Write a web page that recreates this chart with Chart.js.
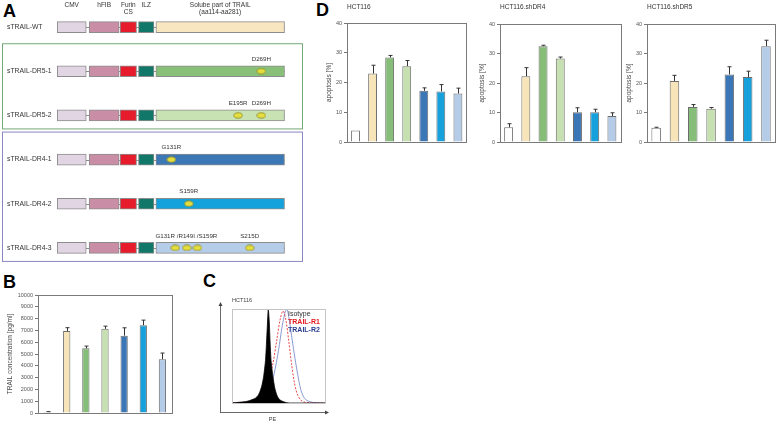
<!DOCTYPE html>
<html>
<head>
<meta charset="utf-8">
<script src="https://cdn.jsdelivr.net/npm/chart.js@4.4.1/dist/chart.umd.min.js"></script>
<style>
body { margin:0; background:#fff; }
#page { position:relative; width:778px; height:422px; overflow:hidden; font-family:'Liberation Sans', Arial, sans-serif; }
#page canvas { position:absolute; }
.panel { position:absolute; font-weight:bold; font-size:18px; line-height:18px; color:#000; }
</style>
</head>
<body>
<div id="page">
  <div class="panel" style="left:3px;top:2px">A</div>
  <div class="panel" style="left:3px;top:273px">B</div>
  <div class="panel" style="left:203px;top:272px">C</div>
  <div class="panel" style="left:316px;top:1px">D</div>
  <canvas id="constructs" width="305" height="275" style="left:0px;top:0px"></canvas>
  <canvas id="elisa" width="178" height="137" style="left:0px;top:285px"></canvas>
  <canvas id="facs" width="125" height="124" style="left:210px;top:298px"></canvas>
  <canvas id="apoWT" width="152" height="155" style="left:318px;top:0px"></canvas>
  <canvas id="apoDR4" width="154" height="155" style="left:470px;top:0px"></canvas>
  <canvas id="apoDR5" width="160" height="155" style="left:618px;top:0px"></canvas>
</div>
<script>
// --- panel A: constructs
var rowNames = ['sTRAIL-WT', 'sTRAIL-DR5-1', 'sTRAIL-DR5-2', 'sTRAIL-DR4-1', 'sTRAIL-DR4-2', 'sTRAIL-DR4-3'];
var segNames = [['CMV'], ['hFIB'], ['Furin', 'CS'], ['ILZ'], ['Solube part of TRAIL', '(aa114-aa281)']];
var segStart = [54, 87, 119, 138, 156];
var segEnd   = [84, 118, 136, 154, 289];
var mutRows   = ['sTRAIL-DR5-1', 'sTRAIL-DR5-2', 'sTRAIL-DR5-2', 'sTRAIL-DR4-1', 'sTRAIL-DR4-2', 'sTRAIL-DR4-3', 'sTRAIL-DR4-3'];
var mutSites  = [[265], [241], [265], [172], [190], [176, 188, 199], [253]];
var mutLabels = ['D269H', 'E195R', 'D269H', 'G131R', 'S159R', 'G131R /R149I /S159R', 'S215D'];
var groupRows = [['sTRAIL-DR5-1', 'sTRAIL-DR5-2'], ['sTRAIL-DR4-1', 'sTRAIL-DR4-3']];

// --- panel B / D: bar groups
var groups = ['ctrl', 'WT', 'DR5-1', 'DR5-2', 'DR4-1', 'DR4-2', 'DR4-3'];
var elisaVals = [80, 6950, 5480, 7130, 6550, 7440, 4560];
var elisaErr  = [40, 280, 190, 230, 670, 430, 520];
var hct116Vals = [3.9, 23.0, 28.4, 25.5, 17.2, 17.0, 16.3];
var hct116Err  = [0, 2.8, 0.7, 1.9, 1.0, 2.3, 1.8];
var shDR4Vals = [5.0, 22.3, 32.5, 28.3, 10.1, 10.1, 8.8];
var shDR4Err  = [1.2, 2.9, 0.3, 0.5, 1.5, 1.0, 1.1];
var shDR5Vals = [4.8, 20.7, 11.9, 11.3, 22.9, 22.0, 32.5];
var shDR5Err  = [0.2, 1.9, 0.8, 0.4, 2.6, 2.0, 2.0];

// --- panel C: histograms (PE channel, % of max)
var isoX = [0, 5, 10, 15, 20, 25, 28, 30, 32, 34, 36, 37, 38, 39, 40, 41, 42, 44, 46, 48, 50, 52, 55, 58, 62, 70, 100];
var isoY = [0, 0.5, 1, 1.5, 3, 5, 8, 12, 18, 28, 45, 62, 82, 100, 88, 64, 45, 28, 16, 9, 5, 3, 1.5, 0.5, 0, 0, 0];
var r1X = [0, 10, 15, 20, 25, 30, 35, 40, 44, 48, 52, 55, 58, 61, 64, 67, 70, 74, 78, 85, 100];
var r1Y = [0, 0.5, 1, 2, 4, 8, 14, 26, 42, 66, 90, 98, 88, 66, 42, 22, 10, 3, 1, 0, 0];
var r2X = [0, 10, 20, 25, 30, 35, 40, 45, 50, 54, 57, 59, 61, 64, 67, 70, 74, 78, 82, 88, 100];
var r2Y = [0, 0.5, 1, 2, 4, 8, 16, 30, 56, 82, 96, 100, 92, 72, 52, 34, 14, 5, 2, 0.5, 0];

var barColors = ['#ffffff', '#f7e4b8', '#86bd78', '#c7e0b1', '#3b77b6', '#17a1dc', '#b4cce8'];
var segColors = ['#e1d4e3', '#c98ea6', '#e61c2c', '#107769'];
var trailColors = ['#f7e6c0', '#88c07a', '#c9e2b3', '#3c77b6', '#14a2dc', '#b5cde9'];
var groupColors = ['#73a877', '#8a86c2'];
var facsLegendColors = ['#333', '#e3191f', '#2b3f8c'];

Chart.defaults.font.family = "'Liberation Sans', Arial, sans-serif";
Chart.defaults.color = '#555';

var tickFont = { size: 5.5 };

function findRow(name) { return rowNames.indexOf(name); }

var constructPlugin = {
  id: 'constructDecor',
  beforeDatasetsDraw: function(chart) {
    var ctx = chart.ctx, xs = chart.scales.x, ys = chart.scales.y;
    ctx.save();
    ctx.lineWidth = 1;
    groupRows.forEach(function(g, i) {
      var top = ys.getPixelForValue(findRow(g[0])) - 28;
      var bottom = ys.getPixelForValue(findRow(g[1])) + 13;
      ctx.strokeStyle = groupColors[i];
      ctx.strokeRect(2.5, top + 0.5, 300, bottom - top);
    });
    ctx.strokeStyle = '#8c8c8c';
    rowNames.forEach(function(r, i) {
      var y = Math.round(ys.getPixelForValue(i)) + 0.5;
      ctx.beginPath();
      ctx.moveTo(xs.getPixelForValue(segStart[0]), y);
      ctx.lineTo(xs.getPixelForValue(segEnd[segEnd.length - 1]), y);
      ctx.stroke();
    });
    ctx.restore();
  },
  afterDatasetsDraw: function(chart) {
    var ctx = chart.ctx, xs = chart.scales.x, ys = chart.scales.y;
    ctx.save();
    ctx.fillStyle = '#333';
    ctx.textBaseline = 'middle';
    ctx.font = "6.8px 'Liberation Sans', Arial, sans-serif";
    ctx.textAlign = 'left';
    rowNames.forEach(function(r, i) {
      ctx.fillText(r, 7, ys.getPixelForValue(i));
    });
    ctx.textAlign = 'center';
    ctx.font = "6.5px 'Liberation Sans', Arial, sans-serif";
    var headY = ys.getPixelForValue(0) - 22;
    segNames.forEach(function(lines, i) {
      var cx = xs.getPixelForValue((segStart[i] + segEnd[i]) / 2);
      lines.forEach(function(t, k) {
        ctx.fillText(t, cx, headY + k * 7.5);
      });
    });
    ctx.font = "6.2px 'Liberation Sans', Arial, sans-serif";
    mutLabels.forEach(function(t, i) {
      var s = mutSites[i];
      var cx = xs.getPixelForValue((s[0] + s[s.length - 1]) / 2);
      ctx.fillText(t, cx, ys.getPixelForValue(findRow(mutRows[i])) - 12);
    });
    ctx.restore();
  }
};

var dot = document.createElement('canvas');
dot.width = 10; dot.height = 7;
var dc = dot.getContext('2d');
dc.beginPath();
dc.ellipse(5, 3.5, 4.2, 2.7, 0, 0, Math.PI * 2);
dc.fillStyle = '#e4df3c';
dc.fill();
dc.strokeStyle = '#8b8630';
dc.lineWidth = 0.8;
dc.stroke();

var segSets = segStart.map(function(s, i) {
  return {
    data: rowNames.map(function() { return [segStart[i], segEnd[i]]; }),
    backgroundColor: i < segColors.length ? segColors[i] : trailColors,
    borderColor: '#8c8c8c',
    borderWidth: 1,
    borderSkipped: false,
    barThickness: 11,
    grouped: false
  };
});
var mutPoints = [];
mutSites.forEach(function(s, i) {
  s.forEach(function(p) { mutPoints.push({ x: p, y: mutRows[i] }); });
});
// lower order is painted last, keeps the dots above the bars
segSets.push({
  type: 'scatter',
  data: mutPoints,
  pointStyle: dot,
  order: -1,
  clip: false
});

new Chart(document.getElementById('constructs'), {
  type: 'bar',
  data: { labels: rowNames, datasets: segSets },
  options: {
    responsive: false,
    animation: false,
    indexAxis: 'y',
    layout: { padding: { top: 4.5, bottom: 0.5, left: 0, right: 0 } },
    plugins: { legend: { display: false }, tooltip: { enabled: false } },
    scales: {
      x: { type: 'linear', min: 0, max: 305, display: false },
      y: { display: false }
    }
  },
  plugins: [constructPlugin]
});

// error bars + frame, shared by bar panels
var errorBarPlugin = {
  id: 'errorBars',
  afterDatasetsDraw: function(chart, args, opts) {
    var ctx = chart.ctx, ys = chart.scales.y;
    var meta = chart.getDatasetMeta(0);
    var vals = chart.data.datasets[0].data;
    ctx.save();
    ctx.strokeStyle = '#333';
    ctx.lineWidth = 1;
    meta.data.forEach(function(bar, i) {
      if (!opts.errors[i]) return;
      var x = Math.round(bar.x) + 0.5;
      var yTop = ys.getPixelForValue(vals[i] + opts.errors[i]);
      ctx.beginPath();
      ctx.moveTo(x, bar.y);
      ctx.lineTo(x, yTop);
      ctx.moveTo(x - 2, yTop);
      ctx.lineTo(x + 2, yTop);
      ctx.stroke();
    });
    ctx.restore();
  }
};

var framePlugin = {
  id: 'frame',
  afterDraw: function(chart, args, opts) {
    var a = chart.chartArea, ctx = chart.ctx;
    ctx.save();
    ctx.strokeStyle = '#7a7a7a';
    ctx.lineWidth = 1;
    ctx.strokeRect(Math.round(a.left) + 0.5, Math.round(a.top) + 0.5, Math.round(a.right - a.left), Math.round(a.bottom - a.top));
    if (opts.title) {
      ctx.fillStyle = '#333';
      ctx.font = "6.5px 'Liberation Sans', Arial, sans-serif";
      ctx.textBaseline = 'middle';
      ctx.fillText(opts.title, a.left, 7);
    }
    ctx.restore();
  }
};

function barChart(id, values, errors, opt) {
  return new Chart(document.getElementById(id), {
    type: 'bar',
    data: {
      labels: groups,
      datasets: [{
        data: values,
        backgroundColor: barColors,
        borderColor: '#6e6e6e',
        borderWidth: 1,
        barPercentage: opt.barPct,
        categoryPercentage: 1
      }]
    },
    options: {
      responsive: false,
      animation: false,
      layout: { padding: { top: opt.top, right: opt.right } },
      plugins: {
        legend: { display: false },
        tooltip: { enabled: false },
        errorBars: { errors: errors },
        frame: { title: opt.title }
      },
      scales: {
        x: {
          grid: { display: false },
          border: { display: false },
          ticks: { font: tickFont, color: '#555', padding: opt.xPad, maxRotation: 0, autoSkip: false },
          afterFit: function(s) { s.height = opt.xH; }
        },
        y: {
          min: 0, max: opt.max,
          ticks: { stepSize: opt.step, font: tickFont, color: '#555', padding: 2, callback: function(v) { return String(v); } },
          grid: { drawOnChartArea: false, tickLength: 3, color: '#777' },
          border: { color: '#777' },
          title: { display: true, text: opt.yTitle, font: { size: 6.5 }, color: '#444', padding: { top: opt.titlePad, bottom: 0 } },
          afterFit: function(s) { s.width = opt.yW; }
        }
      }
    },
    plugins: [errorBarPlugin, framePlugin]
  });
}

barChart('elisa', elisaVals, elisaErr, {
  barPct: 0.38, top: 10, right: 6, xH: 9, xPad: 2, yW: 38, max: 10000, step: 1000,
  yTitle: 'TRAIL concentration [pg/ml]', titlePad: 6
});
barChart('apoWT', hct116Vals, hct116Err, {
  barPct: 0.52, top: 23, right: 2, xH: 13, xPad: 4, yW: 29, max: 40, step: 10,
  yTitle: 'apoptosis [%]', titlePad: 7, title: 'HCT116'
});
barChart('apoDR4', shDR4Vals, shDR4Err, {
  barPct: 0.52, top: 24, right: 2, xH: 13, xPad: 4, yW: 30, max: 40, step: 10,
  yTitle: 'apoptosis [%]', titlePad: 8, title: 'HCT116.shDR4'
});
barChart('apoDR5', shDR5Vals, shDR5Err, {
  barPct: 0.52, top: 24, right: 1, xH: 13, xPad: 4, yW: 29, max: 40, step: 10,
  yTitle: 'apoptosis [%]', titlePad: 7, title: 'HCT116.shDR5'
});

// --- panel C
function pts(xs, ys) { return xs.map(function(x, i) { return { x: x, y: ys[i] }; }); }

var facsPlugin = {
  id: 'facsDecor',
  afterDraw: function(chart) {
    var a = chart.chartArea, ctx = chart.ctx;
    var ax = a.left - 12, ay = a.bottom + 9.5;
    ctx.save();
    ctx.strokeStyle = '#c4c4c4';
    ctx.lineWidth = 1;
    ctx.strokeRect(a.left + 0.5, a.top + 0.5, a.right - a.left, a.bottom - a.top);
    ctx.strokeStyle = '#444';
    ctx.fillStyle = '#444';
    ctx.lineWidth = 0.8;
    ctx.beginPath();
    ctx.moveTo(ax + 0.5, ay);
    ctx.lineTo(ax + 0.5, a.top - 4);
    ctx.moveTo(ax, ay);
    ctx.lineTo(a.right + 1, ay);
    ctx.stroke();
    ctx.beginPath();
    ctx.moveTo(ax + 0.5, a.top - 7); ctx.lineTo(ax - 1.5, a.top - 3); ctx.lineTo(ax + 2.5, a.top - 3);
    ctx.fill();
    ctx.beginPath();
    ctx.moveTo(a.right + 4, ay); ctx.lineTo(a.right, ay - 2); ctx.lineTo(a.right, ay + 2);
    ctx.fill();
    ctx.font = "5.5px 'Liberation Sans', Arial, sans-serif";
    ctx.textAlign = 'center';
    ctx.textBaseline = 'middle';
    ctx.fillText('PE', (ax + a.right) / 2, ay + 7);
    ctx.textAlign = 'left';
    ctx.fillText('HCT116', a.left, a.top - 9);
    chart.data.datasets.forEach(function(d, i) {
      ctx.font = (i === 0 ? '' : 'bold ') + "7px 'Liberation Sans', Arial, sans-serif";
      ctx.fillStyle = facsLegendColors[i];
      ctx.fillText(d.label, a.left + 56, a.top + 5 + i * 8);
    });
    ctx.restore();
  }
};

new Chart(document.getElementById('facs'), {
  type: 'line',
  data: {
    datasets: [
      { label: 'Isotype', data: pts(isoX, isoY), borderColor: '#000', backgroundColor: '#000', fill: 'origin', borderWidth: 0.8, pointRadius: 0, tension: 0.2 },
      { label: 'TRAIL-R1', data: pts(r1X, r1Y), borderColor: '#e3191f', borderDash: [2, 1.5], borderWidth: 0.8, pointRadius: 0, tension: 0.3, fill: false },
      { label: 'TRAIL-R2', data: pts(r2X, r2Y), borderColor: '#6f82c6', borderWidth: 0.8, pointRadius: 0, tension: 0.3, fill: false }
    ]
  },
  options: {
    responsive: false,
    animation: false,
    layout: { padding: { left: 22, top: 11, right: 10, bottom: 19 } },
    plugins: { legend: { display: false }, tooltip: { enabled: false } },
    scales: {
      x: { type: 'linear', min: 0, max: 100, display: false },
      y: { min: 0, max: 100, display: false }
    }
  },
  plugins: [facsPlugin]
});
</script>
</body>
</html>
